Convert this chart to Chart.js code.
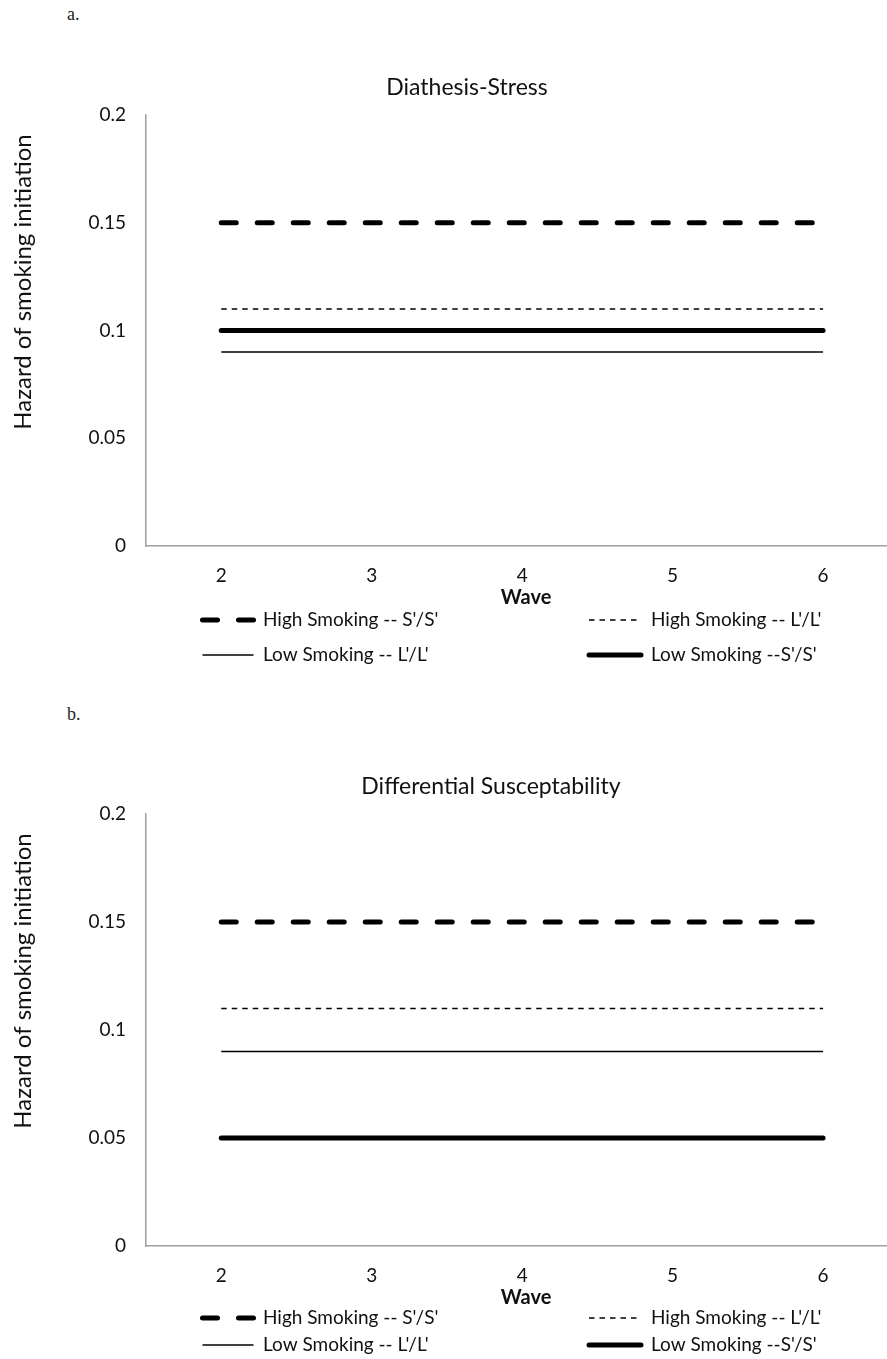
<!DOCTYPE html>
<html lang="en">
<head>
<meta charset="UTF-8" />
<title>Hazard of smoking initiation</title>
<script src="https://cdn.jsdelivr.net/npm/chart.js"></script>
<style>
  body { margin: 0; background: #fff; width: 887px; height: 1359px; position: relative; overflow: hidden; }
  .panel { position: absolute; left: 0; width: 887px; }
  .tag { position: absolute; left: 67px; font-family: "Liberation Serif", serif; font-size: 18px; color: #222; }
</style>
</head>
<body>
<div class="tag" style="top:4px">a.</div>
<div class="panel" style="top:0;height:690px"><canvas id="chartA"></canvas></div>
<div class="tag" style="top:704px">b.</div>
<div class="panel" style="top:700px;height:659px"><canvas id="chartB"></canvas></div>
<script>
// data
const waves = [2, 3, 4, 5, 6];
const yTickLabels = ["0", "0.05", "0.1", "0.15", "0.2"];
const seriesLabels = ["High Smoking -- S'/S'", "High Smoking -- L'/L'", "Low Smoking -- L'/L'", "Low Smoking --S'/S'"];

const diathesisHighSS = [0.15, 0.15, 0.15, 0.15, 0.15];
const diathesisHighLL = [0.11, 0.11, 0.11, 0.11, 0.11];
const diathesisLowLL = [0.09, 0.09, 0.09, 0.09, 0.09];
const diathesisLowSS = [0.10, 0.10, 0.10, 0.10, 0.10];

const diffHighSS = [0.15, 0.15, 0.15, 0.15, 0.15];
const diffHighLL = [0.11, 0.11, 0.11, 0.11, 0.11];
const diffLowLL = [0.09, 0.09, 0.09, 0.09, 0.09];
const diffLowSS = [0.05, 0.05, 0.05, 0.05, 0.05];

const FONT = "Lato, 'Open Sans', sans-serif";
const INK = "#111";
const AXIS = "#a0a0a0";
const XAXIS_H = 64;

// line styles, same order as seriesLabels
const styles = [
  { borderWidth: 5, borderDash: [15, 21], borderCapStyle: "round" },
  { borderWidth: 1.5, borderDash: [5.5, 5], borderCapStyle: "butt" },
  { borderWidth: 1.5, borderDash: [], borderCapStyle: "butt" },
  { borderWidth: 5, borderDash: [], borderCapStyle: "round" },
];

function points(values) {
  return waves.map((w, i) => ({ x: w, y: values[i] }));
}

// titles + two-column legend under the axis
const extras = {
  id: "extras",
  afterDraw(chart, args, opts) {
    const { ctx, chartArea } = chart;
    ctx.save();
    ctx.fillStyle = INK;
    ctx.textAlign = "center";
    ctx.textBaseline = "middle";
    ctx.font = "23px " + FONT;
    ctx.fillText(opts.title, opts.titleX, chartArea.top - 27);

    ctx.font = "bold 20px " + FONT;
    ctx.fillText("Wave", 526, chartArea.bottom + 52);

    ctx.save();
    ctx.translate(23, chartArea.top + 167);
    ctx.rotate(-Math.PI / 2);
    ctx.font = "24px " + FONT;
    ctx.fillText("Hazard of smoking initiation", 0, 0);
    ctx.restore();

    const cols = [{ sx: 202.5, ex: 253.5, tx: 263 }, { sx: 589, ex: 641, tx: 651 }];
    ctx.font = "19px " + FONT;
    ctx.textAlign = "left";
    chart.data.datasets.forEach((ds, i) => {
      const col = cols[i % 2];
      const y = chartArea.bottom + opts.rows[Math.floor(i / 2)];
      ctx.save();
      ctx.strokeStyle = ds.borderColor;
      ctx.lineWidth = ds.borderWidth;
      ctx.lineCap = ds.borderCapStyle;
      ctx.setLineDash(ds.borderDash);
      ctx.beginPath();
      ctx.moveTo(col.sx, y);
      ctx.lineTo(col.ex, y);
      ctx.stroke();
      ctx.restore();
      ctx.fillText(ds.label, col.tx, y);
    });
    ctx.restore();
  },
};

function makeChart(id, series, title, titleX, padTop, height, rows) {
  return new Chart(document.getElementById(id), {
    type: "line",
    data: {
      datasets: series.map((vals, i) => ({
        label: seriesLabels[i],
        data: points(vals),
        borderColor: "#000",
        pointRadius: 0,
        fill: false,
        ...styles[i],
      })),
    },
    options: {
      responsive: true,
      maintainAspectRatio: false,
      animation: false,
      layout: { padding: { top: padTop, bottom: height - 546 - XAXIS_H, left: 0, right: 0 } },
      plugins: {
        legend: { display: false },
        tooltip: { enabled: false },
        extras: { title: title, titleX: titleX, rows: rows },
      },
      scales: {
        x: {
          type: "linear",
          min: 1.5,
          max: 6.425,
          grid: { display: false, drawTicks: false },
          border: { display: true, color: AXIS, width: 1.5 },
          afterBuildTicks: (s) => { s.ticks = waves.map((w) => ({ value: w })); },
          afterFit: (s) => { s.height = XAXIS_H; },
          ticks: { padding: 18, color: INK, font: { family: FONT, size: 19 } },
        },
        y: {
          min: 0,
          max: 0.2,
          grid: { display: false, drawTicks: false },
          border: { display: true, color: AXIS, width: 1.5 },
          afterBuildTicks: (s) => { s.ticks = yTickLabels.map((t, i) => ({ value: i * 0.05 })); },
          afterFit: (s) => { s.width = 146; },
          ticks: { padding: 20, color: INK, font: { family: FONT, size: 19 }, callback: (v, i) => yTickLabels[i] },
        },
      },
    },
    plugins: [extras],
  });
}

makeChart("chartA", [diathesisHighSS, diathesisHighLL, diathesisLowLL, diathesisLowSS],
  "Diathesis-Stress", 467, 115, 690, [74, 109]);
makeChart("chartB", [diffHighSS, diffHighLL, diffLowLL, diffLowSS],
  "Differential Susceptability", 491, 114, 659, [72, 99]);
</script>
</body>
</html>
